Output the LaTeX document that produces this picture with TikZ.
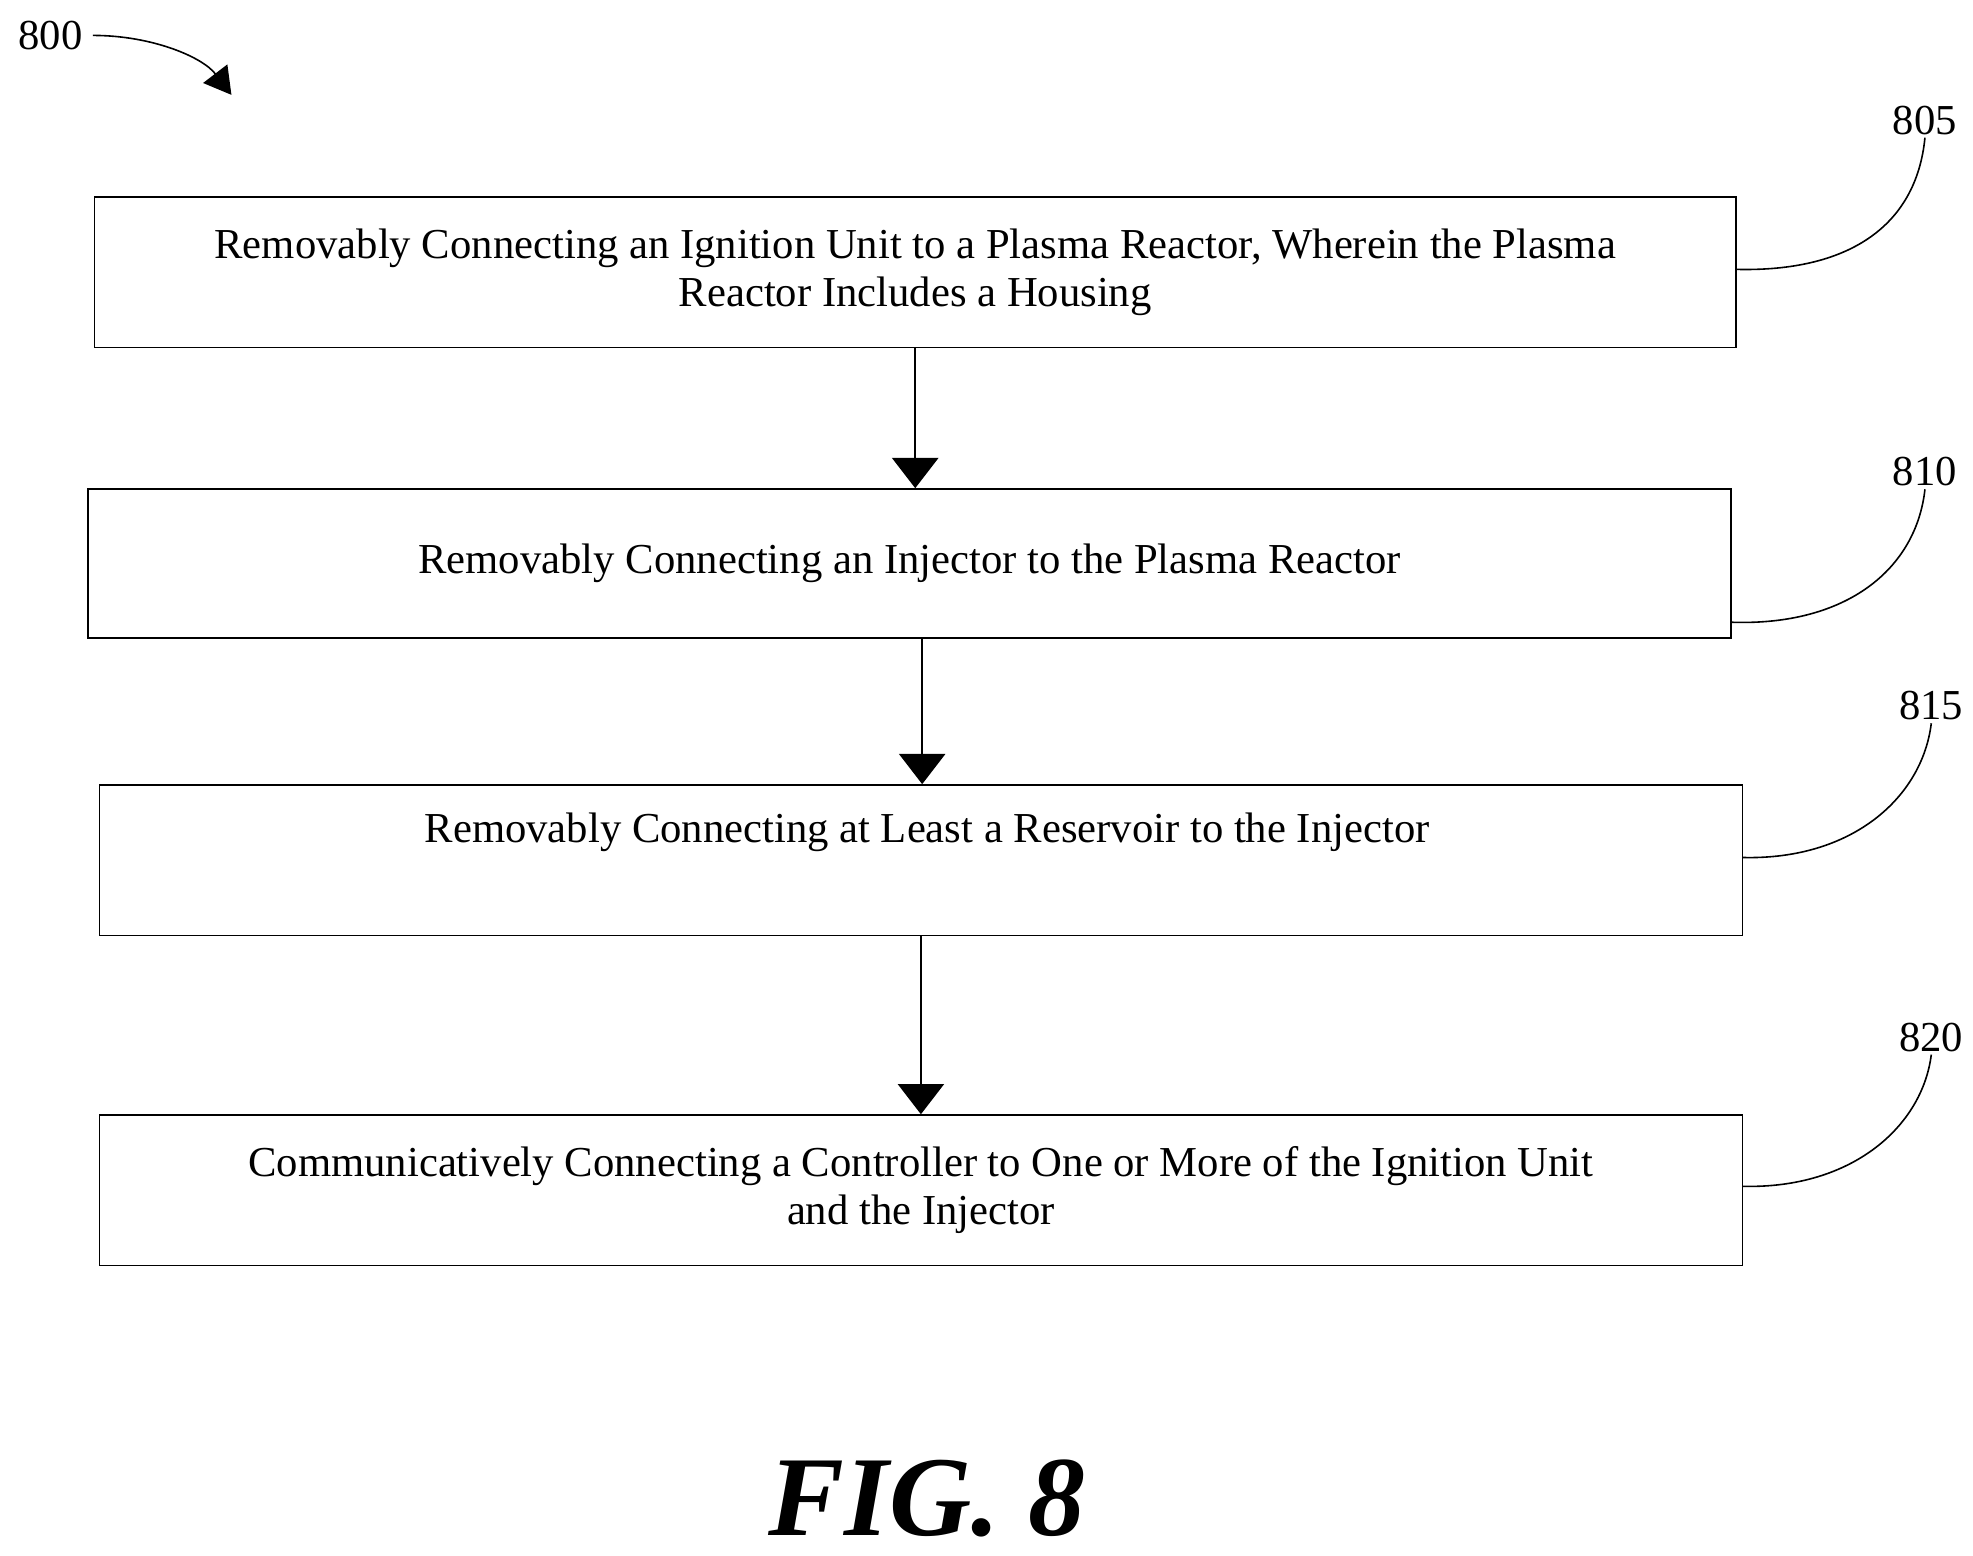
\documentclass[tikz,border=0pt]{standalone}
\usepackage{fontspec}
\setmainfont{Liberation Serif}
\usetikzlibrary{positioning, arrows.meta}

\begin{document}
\begin{tikzpicture}[x=0.5mm, y=-0.5mm,
    stepbox/.style={draw, line width=1.8pt, inner sep=0pt, font=\fontsize{48}{54}\selectfont,
      align=center, anchor=north west},
    flow/.style={line width=1.8pt, -{Triangle[width=52pt, length=34pt]}},
    tag/.style={font=\fontsize{48}{52}\selectfont},
    lead/.style={line width=1.8pt}]
    \useasboundingbox (0,0) rectangle (1560,1230);

    % steps
    \node [stepbox, minimum width=649mm, minimum height=59.5mm] (S805) at (74,155)
    {Removably Connecting an Ignition Unit to a Plasma Reactor, Wherein the Plasma\\
      Reactor Includes a Housing};%
    \node [stepbox, minimum width=649.5mm, minimum height=59mm] (S810) at (69,386)
    {Removably Connecting an Injector to the Plasma Reactor};%
    \node [stepbox, minimum width=649.5mm, minimum height=59.5mm] (S815) at (78,620) {};%
    \node [font=\fontsize{48}{54}\selectfont] (T815) at (733,658)
    {Removably Connecting at Least a Reservoir to the Injector};%
    \node [stepbox, minimum width=649.5mm, minimum height=59.5mm] (S820) at (78,881)
    {Communicatively Connecting a Controller to One or More of the Ignition Unit\\
      and the Injector};%

    % reference numerals
    \node [tag] (N805) at (1522,95) {805};%
    \node [tag] (N810) at (1522,373) {810};%
    \node [tag] (N815) at (1527,558) {815};%
    \node [tag] (N820) at (1527,820) {820};%
    \node [tag] (N800) at (40,28) {800};%
    \coordinate (P800) at (183,75);%

    % leaders
    \draw [lead] (S805.east |- 0,213) .. controls (1460,215) and (1515,180) .. (N805.south);%
    \draw [lead] (S810.east |- 0,492) .. controls (1460,495) and (1515,450) .. (N810.south);%
    \draw [lead] (S815.east |- 0,678) .. controls (1465,680) and (1520,630) .. (N815.south);%
    \draw [lead] (S820.east |- 0,938) .. controls (1465,940) and (1520,890) .. (N820.south);%
    \draw [lead, -{Triangle[width=34pt, length=30pt]}] ([xshift=8pt]N800.east) .. controls (120,28) and (160,45) .. (P800);%

    % arrows
    \draw [flow] (S805.south) -- (S805.south |- S810.north);%
    \draw [flow] ([xshift=5mm]S810.south) -- ([xshift=5mm]S810.south |- S815.north);%
    \draw [flow] (S815.south) -- (S815.south |- S820.north);%

    % caption
    \node [font=\fontsize{128}{128}\selectfont\bfseries\itshape] (FIG) at (733,1185) {FIG. 8};%
\end{tikzpicture}
\end{document}
